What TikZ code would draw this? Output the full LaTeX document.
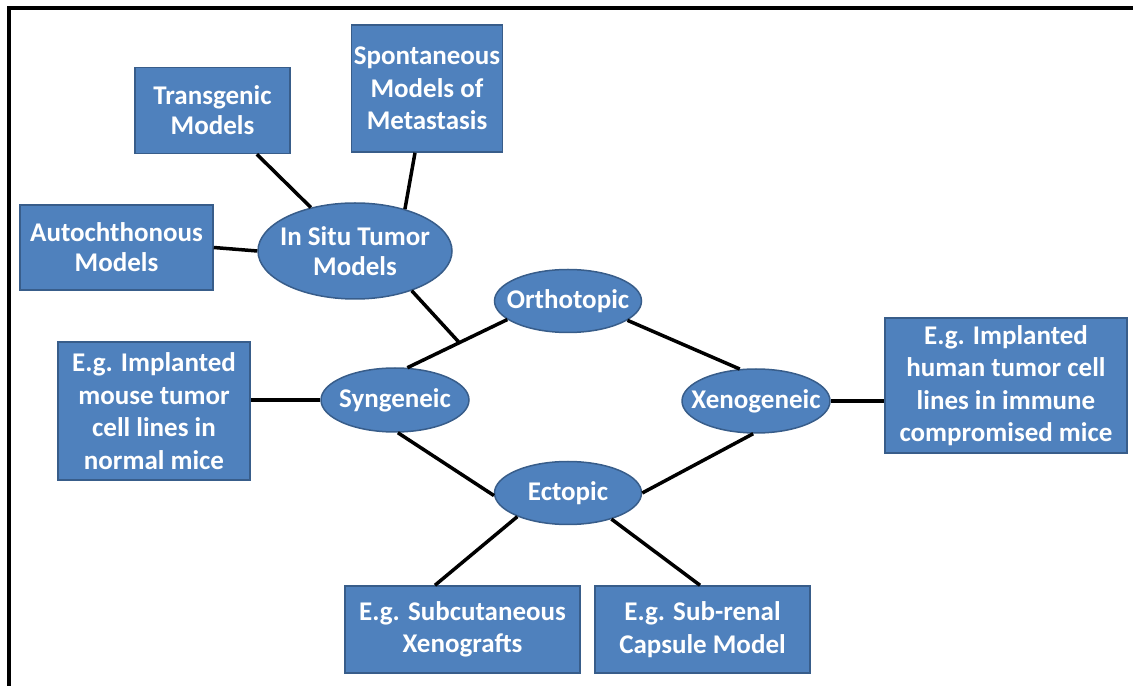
\documentclass[tikz,border=0pt]{standalone}
\usepackage{fontspec}
\setmainfont{Carlito}
\usetikzlibrary{shapes.geometric,calc}
\definecolor{boxfill}{HTML}{4F81BD}
\definecolor{boxline}{HTML}{385D8A}
\begin{document}
\begin{tikzpicture}[x=1pt,y=1pt,
  every node/.style={font=\bfseries\fontsize{27}{32.5}\selectfont, text=white, align=center, inner sep=0pt},
  boxnode/.style={rectangle, fill=boxfill, draw=boxline, line width=1.5pt},
  ellnode/.style={ellipse, fill=boxfill, draw=boxline, line width=1.5pt, inner sep=-14pt},
  link/.style={line width=3.5pt, black},
  tight/.style={font=\bfseries\fontsize{27}{30}\selectfont}]
\useasboundingbox (0,0) rectangle (1133,686);
% frame
\draw[line width=4pt] (1133,678) -- (9,678) -- (9,0);
% boxes
\node[boxnode, tight, minimum width=155, minimum height=86] (trans) at (212.5,575.5) {Transgenic\\Models};
\node[boxnode, minimum width=151, minimum height=127] (spont) at (427,597.5) {Spontaneous\\Models of\\Metastasis};
\node[boxnode, tight, minimum width=193, minimum height=85] (auto) at (116.5,438.5) {Autochthonous\\Models};
\node[ellnode, tight, minimum width=194, minimum height=96] (insitu) at (355,435) {In Situ Tumor\\Models};
\node[ellnode, minimum width=147, minimum height=63] (ortho) at (568,385) {Orthotopic};
\node[ellnode, minimum width=148, minimum height=64] (syn) at (395,286) {Syngeneic};
\node[ellnode, minimum width=148, minimum height=64] (xeno) at (756,285) {Xenogeneic};
\node[ellnode, minimum width=147, minimum height=63] (ecto) at (568,193) {Ectopic};
\node[boxnode, minimum width=192, minimum height=138] (mouse) at (154,275) {E.g. Implanted\\mouse tumor\\cell lines in\\normal mice};
\node[boxnode, minimum width=242, minimum height=135] (human) at (1006,300.5) {E.g. Implanted\\human tumor cell\\lines in immune\\compromised mice};
\node[boxnode, minimum width=235, minimum height=87] (subc) at (462.5,56.5) {E.g. Subcutaneous\\Xenografts};
\node[boxnode, minimum width=215, minimum height=87] (subr) at (702.5,56.5) {E.g. Sub-renal\\Capsule Model};
% connectors
\coordinate (J) at ($(ortho.197)!0.48!(syn.69)$);
\draw[link] (trans) -- (insitu);
\draw[link] ($(spont.south)+(-12,0)$) -- (insitu.40);
\draw[link] (auto.east) -- (insitu.west);
\draw[link] (ortho.197) -- (syn.69);
\draw[link] (insitu.-35) -- (J);
\draw[link] (ortho.-18) -- (xeno.117);
\draw[link] (syn.-85) -- (ecto.182);
\draw[link] (xeno.-95) -- (ecto.0);
\draw[link] (ecto.205) -- ($(subc.north)+(-27.5,0)$);
\draw[link] (ecto.-31) -- ($(subr.north)+(-2.5,0)$);
\draw[link] (syn.west) -- (syn.west -| mouse.east);
\draw[link] (xeno.east) -- (xeno.east -| human.west);
\end{tikzpicture}
\end{document}
